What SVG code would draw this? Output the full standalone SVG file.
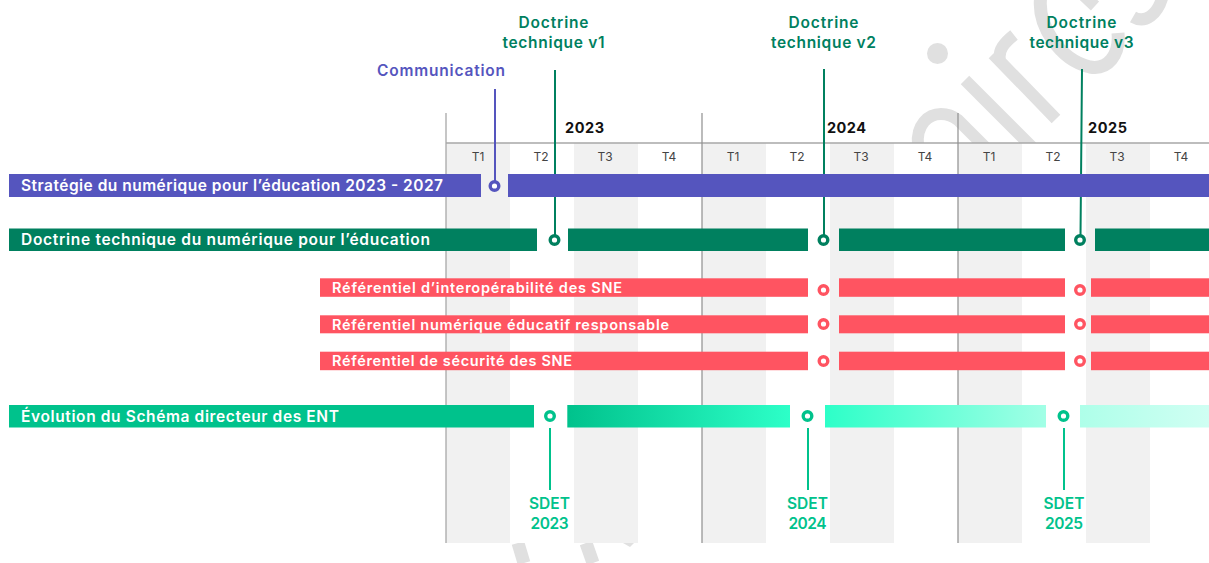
<svg xmlns="http://www.w3.org/2000/svg" width="1209" height="563" viewBox="0 0 1209 563">
<style>
text{font-family:"Inter","Noto Sans","Liberation Sans",sans-serif}
.wm{fill:none;stroke:#e0e0e0;stroke-width:12}
.band{fill:#f1f1f1}
.rule{stroke:#a8a8a8;stroke-width:1.3;fill:none}
.rule2{stroke:#8f8f8f;stroke-width:1.2;fill:none}
.q{font-size:12px;fill:#444;text-anchor:middle}
.y{font-size:14.5px;font-weight:700;fill:#111}
.bl{font-size:15.5px;font-weight:600;fill:#fff}
.rl{font-size:14.5px;font-weight:600;fill:#fff}
.lab{font-size:15.5px;font-weight:600;text-anchor:middle}
.pu{fill:#5555be}.gr{fill:#00805f}.re{fill:#ff5461}.te{fill:#00c28c}
.cpu{fill:#fff;stroke:#5555be;stroke-width:3.4}
.cgr{fill:#fff;stroke:#00805f;stroke-width:3.4}
.cre{fill:#fff;stroke:#ff5461;stroke-width:3.4}
.cte{fill:#fff;stroke:#00c28c;stroke-width:3.4}
.lpu{stroke:#5555be;stroke-width:2;fill:none}
.lgr{stroke:#00805f;stroke-width:2;fill:none}
.lte{stroke:#00c28c;stroke-width:2;fill:none}
</style>
<defs>
<linearGradient id="g1"><stop offset="0" stop-color="#00c28c"/><stop offset="1" stop-color="#2dffc8"/></linearGradient>
<linearGradient id="g2"><stop offset="0" stop-color="#2dffc8"/><stop offset="1" stop-color="#a2ffe6"/></linearGradient>
<linearGradient id="g3"><stop offset="0" stop-color="#aeffe9"/><stop offset="1" stop-color="#d0fff3"/></linearGradient>
</defs>
<rect width="1209" height="563" fill="#fff"/>
<g id="watermark">
<path class="wm" d="M918 145C916 125 928 114 941 114C948 114 953 116 958 120L990 152"/>
<path class="wm" d="M965 80L1032 147M993 54L1056 119M1000 60C998 50 1004 43 1014 35"/>
<circle cx="937.5" cy="53.5" r="10.5" fill="#e0e0e0"/>
<path class="wm" style="stroke-width:13" d="M1041 -5C1036 25 1060 60 1090 67C1108 70 1120 55 1118 33"/>
<path class="wm" d="M1080 -8L1095 6"/>
<path class="wm" d="M1133 17C1145 24 1158 15 1163 -5"/>
<path class="wm" style="stroke-width:13" d="M518 543L524 563M586 543L593 563"/>
<path d="M623 543H634L630 547Z" fill="#e0e0e0"/>
</g>
<rect x="446" y="143" width="763" height="400" fill="#fff"/>
<g id="grid">
<rect class="band" x="446" y="143" width="64" height="400"/>
<rect class="band" x="574" y="143" width="64" height="400"/>
<rect class="band" x="702" y="143" width="64" height="400"/>
<rect class="band" x="830" y="143" width="64" height="400"/>
<rect class="band" x="958" y="143" width="64" height="400"/>
<rect class="band" x="1086" y="143" width="64" height="400"/>
<path class="rule" d="M446 113V543M446 143H1209"/>
<path class="rule2" d="M702 113V543M958 113V543"/>
<text class="y" x="565" y="133" textLength="39">2023</text>
<text class="y" x="827" y="133" textLength="39">2024</text>
<text class="y" x="1088" y="133" textLength="39">2025</text>
<text class="q" x="478" y="161">T1</text><text class="q" x="541" y="161">T2</text><text class="q" x="605" y="161">T3</text><text class="q" x="669" y="161">T4</text>
<text class="q" x="733" y="161">T1</text><text class="q" x="797" y="161">T2</text><text class="q" x="861" y="161">T3</text><text class="q" x="925" y="161">T4</text>
<text class="q" x="989" y="161">T1</text><text class="q" x="1053" y="161">T2</text><text class="q" x="1117" y="161">T3</text><text class="q" x="1181" y="161">T4</text>
</g>
<g id="connectors">
<path class="lpu" d="M495 89V182"/>
<path class="lgr" d="M555 70V236M824 69V236M1082 69L1080.5 236"/>
<path class="lte" d="M550 428V490M808 428V490M1064 428V490"/>
</g>
<g id="strategie">
<rect class="pu" x="9" y="174" width="472" height="23"/>
<rect class="pu" x="508" y="174" width="701" height="23"/>
<text class="bl" x="21" y="191" textLength="422">Stratégie du numérique pour l’éducation 2023 - 2027</text>
<circle class="cpu" cx="494.5" cy="186" r="4.3"/>
</g>
<g id="doctrine">
<rect class="gr" x="9" y="228.5" width="528" height="22.5"/>
<rect class="gr" x="568" y="228.5" width="240" height="22.5"/>
<rect class="gr" x="839" y="228.5" width="226" height="22.5"/>
<rect class="gr" x="1095" y="228.5" width="114" height="22.5"/>
<text class="bl" x="21" y="245" textLength="409">Doctrine technique du numérique pour l’éducation</text>
<circle class="cgr" cx="554.5" cy="240" r="4.3"/>
<circle class="cgr" cx="823.5" cy="240" r="4.3"/>
<circle class="cgr" cx="1080" cy="240" r="4.3"/>
</g>
<g id="ref-interop">
<rect class="re" x="320" y="278.3" width="488" height="18.5"/>
<rect class="re" x="839" y="278.3" width="226" height="18.5"/>
<rect class="re" x="1091" y="278.3" width="118" height="18.5"/>
<text class="rl" x="332" y="293" textLength="290">Référentiel d’interopérabilité des SNE</text>
<circle class="cre" cx="823.5" cy="290" r="4.3"/>
<circle class="cre" cx="1080" cy="290" r="4.3"/>
</g>
<g id="ref-nera">
<rect class="re" x="320" y="315.3" width="488" height="18"/>
<rect class="re" x="839" y="315.3" width="226" height="18"/>
<rect class="re" x="1091" y="315.3" width="118" height="18"/>
<text class="rl" x="332" y="330" textLength="337">Référentiel numérique éducatif responsable</text>
<circle class="cre" cx="823.5" cy="324" r="4.3"/>
<circle class="cre" cx="1080" cy="324" r="4.3"/>
</g>
<g id="ref-securite">
<rect class="re" x="320" y="351.7" width="488" height="18.5"/>
<rect class="re" x="839" y="351.7" width="226" height="18.5"/>
<rect class="re" x="1091" y="351.7" width="118" height="18.5"/>
<text class="rl" x="332" y="366" textLength="240">Référentiel de sécurité des SNE</text>
<circle class="cre" cx="823.5" cy="361" r="4.3"/>
<circle class="cre" cx="1080" cy="361" r="4.3"/>
</g>
<g id="schema">
<rect class="te" x="9" y="405" width="525" height="22.5"/>
<rect x="567.3" y="405" width="222.7" height="22.5" fill="url(#g1)"/>
<rect x="825" y="405" width="221" height="22.5" fill="url(#g2)"/>
<rect x="1080" y="405" width="129" height="22.5" fill="url(#g3)"/>
<text class="bl" x="21" y="422" textLength="318">Évolution du Schéma directeur des ENT</text>
<circle class="cte" cx="550" cy="416" r="4.3"/>
<circle class="cte" cx="807.5" cy="416" r="4.3"/>
<circle class="cte" cx="1063.5" cy="416" r="4.3"/>
</g>
<g id="label-communication"><text class="lab" x="441" y="76" fill="#5555be" textLength="128">Communication</text></g>
<g id="label-v1" fill="#00805f"><text class="lab" x="553.5" y="28" textLength="70">Doctrine</text><text class="lab" x="553.5" y="48" textLength="102">technique v1</text></g>
<g id="label-v2" fill="#00805f"><text class="lab" x="823.5" y="28" textLength="70">Doctrine</text><text class="lab" x="823.5" y="48" textLength="105">technique v2</text></g>
<g id="label-v3" fill="#00805f"><text class="lab" x="1081.5" y="28" textLength="70">Doctrine</text><text class="lab" x="1081.5" y="48" textLength="104">technique v3</text></g>
<g id="label-sdet23" fill="#00c28c"><text class="lab" x="549.5" y="509" textLength="41">SDET</text><text class="lab" x="549.5" y="529" textLength="38">2023</text></g>
<g id="label-sdet24" fill="#00c28c"><text class="lab" x="807.5" y="509" textLength="41">SDET</text><text class="lab" x="807.5" y="529" textLength="38">2024</text></g>
<g id="label-sdet25" fill="#00c28c"><text class="lab" x="1064" y="509" textLength="41">SDET</text><text class="lab" x="1064" y="529" textLength="38">2025</text></g>
</svg>
